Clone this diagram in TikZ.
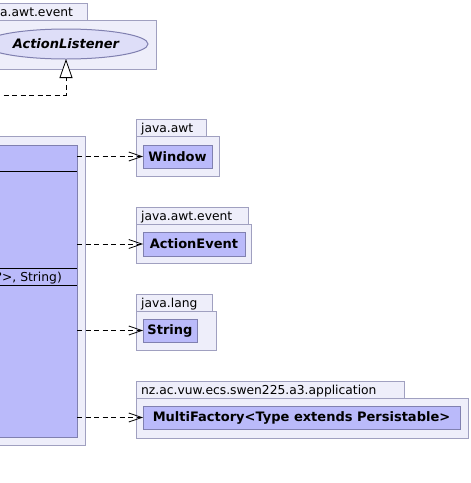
\documentclass[tikz,border=0pt]{standalone}
\usepackage{fontspec}
\setmainfont{DejaVu Sans}
\usetikzlibrary{arrows.meta,shapes.geometric}
\definecolor{pkgfill}{RGB}{238,238,250}
\definecolor{pkgline}{RGB}{160,160,192}
\definecolor{clsfill}{RGB}{186,186,250}
\definecolor{clsline}{RGB}{128,128,176}
\definecolor{ifcfill}{RGB}{222,222,248}
\begin{document}
\begin{tikzpicture}[x=1pt,y=-1pt,
  pkgbody/.style={draw=pkgline,fill=pkgfill,line width=1pt,anchor=north west,inner sep=0pt,outer sep=0pt},
  pkglabel/.style={anchor=base west,inner sep=0pt,font=\fontsize{12.3}{14}\selectfont},
  cls/.style={draw=clsline,fill=clsfill,line width=1pt,anchor=north west,inner sep=0pt,outer sep=0pt,font=\fontsize{13}{15}\selectfont\bfseries},
  ifc/.style={ellipse,draw=clsline,fill=ifcfill,line width=1pt,inner sep=0pt,outer sep=0pt,font=\fontsize{13}{15}\selectfont\bfseries\itshape},
  sep/.style={line width=1pt,draw=black},
  dep/.style={dash pattern=on 5pt off 3.5pt,line width=0.8pt,-{Straight Barb[length=13pt,width=9pt,line width=0.8pt]}},
  real/.style={dash pattern=on 5pt off 3.5pt,line width=0.8pt,-{Triangle[open,length=19pt,width=13pt,fill=white,line width=0.8pt]}},
]
\useasboundingbox (0,0) rectangle (471,483);
\clip (0,0) rectangle (471,483);

% top-left package java.awt.event
\node[pkgbody,minimum width=97pt,minimum height=17pt] (tlTab) at (-10,3) {};
\node[pkgbody,minimum width=166pt,minimum height=49pt] (tlBody) at (-10,20) {};
\node[pkglabel] (tlLbl) at (0,16) {a.awt.event};
\node[ifc,minimum width=164pt,minimum height=30pt] (al) at (66,44) {ActionListener};

% main package body and class (cut at left)
\node[pkgbody,minimum width=95pt,minimum height=309pt] (mainPkg) at (-10,136) {};
\node[cls,minimum width=87pt,minimum height=292pt] (main) at (-10,145) {};
\draw[sep] (main.west |- 0,171) -- (main.east |- 0,171);
\draw[sep] (main.west |- 0,268) -- (main.east |- 0,268);
\draw[sep] (main.west |- 0,285) -- (main.east |- 0,285);
\node[anchor=base east,inner sep=0pt,font=\fontsize{12.3}{14}\selectfont] (sig) at (62,281.5) {?>, String)};

% java.awt
\node[pkgbody,minimum width=70pt,minimum height=17pt] (p1Tab) at (136,119) {};
\node[pkgbody,minimum width=83pt,minimum height=40pt] (p1Body) at (136,136) {};
\node[pkglabel] (p1Lbl) at (141,132) {java.awt};
\node[cls,minimum width=69pt,minimum height=23pt] (win) at (143,145) {Window};

% java.awt.event
\node[pkgbody,minimum width=112pt,minimum height=17pt] (p2Tab) at (136,207) {};
\node[pkgbody,minimum width=115pt,minimum height=39pt] (p2Body) at (136,224) {};
\node[pkglabel] (p2Lbl) at (141,220) {java.awt.event};
\node[cls,minimum width=102pt,minimum height=24pt] (ae) at (143,232) {ActionEvent};

% java.lang
\node[pkgbody,minimum width=76pt,minimum height=17pt] (p3Tab) at (136,294) {};
\node[pkgbody,minimum width=80pt,minimum height=39pt] (p3Body) at (136,311) {};
\node[pkglabel] (p3Lbl) at (141,307) {java.lang};
\node[cls,minimum width=54pt,minimum height=23pt] (str) at (143,319) {String};

% nz.ac.vuw.ecs.swen225.a3.application
\node[pkgbody,minimum width=268pt,minimum height=17pt] (p4Tab) at (136,381) {};
\node[pkgbody,minimum width=332pt,minimum height=40pt] (p4Body) at (136,398) {};
\node[pkglabel] (p4Lbl) at (141,394) {nz.ac.vuw.ecs.swen225.a3.application};
\node[cls,minimum width=317pt,minimum height=23pt] (mf) at (143,406) {MultiFactory<Type extends Persistable>};

% connectors
\coordinate (alSrc) at (-5,95);
\draw[real] (alSrc) -| (al.south);
\draw[dep] (main.east |- win.west) -- (win.west);
\draw[dep] (main.east |- ae.west) -- (ae.west);
\draw[dep] (main.east |- str.west) -- (str.west);
\draw[dep] (main.east |- mf.west) -- (mf.west);
\end{tikzpicture}
\end{document}
